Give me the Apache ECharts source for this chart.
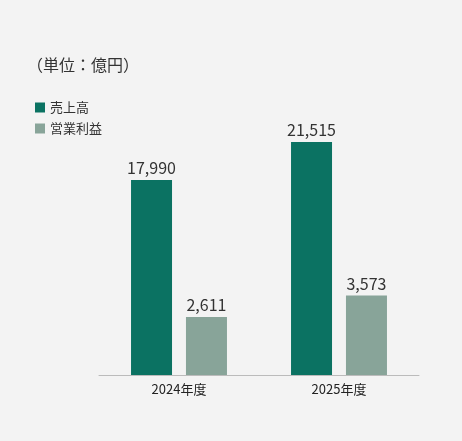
<!DOCTYPE html>
<html><head><meta charset="utf-8">
<script src="https://cdn.jsdelivr.net/npm/echarts@6/dist/echarts.min.js"></script>
<style>html,body{margin:0;background:#f3f3f3}#c{width:462px;height:441px}</style>
</head><body><div id="c"></div>
<script>
const categories = ['2024年度', '2025年度'];
const sales = [17990, 21515];
const profit = [2611, 3573];
const fmt = v => v.value.toLocaleString('en-US');
const chart = echarts.init(document.getElementById('c'));
chart.setOption({
  backgroundColor: '#f3f3f3',
  textStyle: { fontFamily: 'Noto Sans CJK JP' },
  title: { text: '（単位：億円）', left: 22, top: 52, textStyle: { fontSize: 16, fontWeight: 'normal', color: '#333' } },
  legend: { orient: 'vertical', left: 30, top: 96, itemWidth: 10, itemHeight: 10, itemGap: 8, icon: 'rect',
    textStyle: { fontSize: 13, color: '#333' } },
  grid: { left: 99, right: 43, top: 50, bottom: 66 },
  xAxis: { type: 'category', data: categories, axisTick: { show: false },
    axisLine: { lineStyle: { color: '#bbb' } },
    axisLabel: { fontSize: 13, color: '#222', margin: 8 } },
  yAxis: [
    { type: 'value', min: 0, max: 30000, show: false },
    { type: 'value', min: 0, max: 14600, show: false }
  ],
  series: [
    { name: '売上高', type: 'bar', data: sales, yAxisIndex: 0, barWidth: 41, barGap: '34%',
      itemStyle: { color: '#0b7262' },
      label: { show: true, position: 'top', formatter: fmt, fontSize: 16, color: '#333', distance: 4 } },
    { name: '営業利益', type: 'bar', data: profit, yAxisIndex: 1, barWidth: 41,
      itemStyle: { color: '#88a499' },
      label: { show: true, position: 'top', formatter: fmt, fontSize: 16, color: '#333', distance: 4 } }
  ]
});
</script></body></html>
